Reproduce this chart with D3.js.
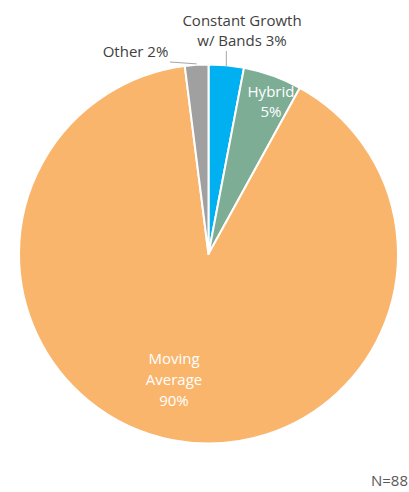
<!DOCTYPE html>
<html>
<head>
<meta charset="utf-8">
<script src="https://cdn.jsdelivr.net/npm/d3@7/dist/d3.min.js"></script>
<style>
  html, body { margin: 0; padding: 0; background: #fff; overflow: hidden; }
  svg { display: block; }
  text { font-family: "Open Sans", "Noto Sans", sans-serif; }
</style>
</head>
<body>
<svg id="chart" width="409" height="492"></svg>
<script>
// Forecast method shares (percent), clockwise from 12 o'clock
const categories = ["Constant Growth w/ Bands", "Hybrid", "Moving Average", "Other"];
const values = [3, 5, 90, 2];
const colors = ["#00B0F0", "#7EAD96", "#FAB56C", "#A0A0A0"];
const sampleNote = "N=88";

const svg = d3.select("#chart");
const cx = 208.5, cy = 254, radius = 189.5;

const pie = d3.pie().sort(null).value(d => d.value);
const arcs = pie(categories.map((c, i) => ({ name: c, value: values[i], color: colors[i] })));
const arc = d3.arc().innerRadius(0).outerRadius(radius);

const g = svg.append("g").attr("transform", `translate(${cx},${cy})`);

g.selectAll("path.slice")
  .data(arcs)
  .join("path")
  .attr("class", "slice")
  .attr("d", arc)
  .attr("fill", d => d.data.color)
  .attr("stroke", "#fff")
  .attr("stroke-width", 2)
  .attr("stroke-linejoin", "round");

// Point on the rim at the middle angle of a slice
function rimPoint(d, r) {
  const a = (d.startAngle + d.endAngle) / 2;
  return [cx + Math.sin(a) * r, cy - Math.cos(a) * r];
}

// Leader lines for the labels placed outside
const leader = svg.append("g").attr("stroke", "#A6A6A6").attr("stroke-width", 1).attr("fill", "none");
const cg = rimPoint(arcs[0], radius);
leader.append("line").attr("x1", cg[0]).attr("y1", 51).attr("x2", cg[0]).attr("y2", cg[1] + 1);
const ot = rimPoint(arcs[3], radius);
leader.append("polyline").attr("points", `170,62 ${ot[0]},${ot[1] - 1}`);

const fs = 15;

// Outside labels
const outside = svg.append("g").attr("fill", "#404040").attr("font-size", fs).attr("text-anchor", "middle");
outside.append("text").attr("x", 242).attr("y", 26).text("Constant Growth");
outside.append("text").attr("x", 242).attr("y", 46).text(`w/ Bands ${values[0]}%`);
outside.append("text").attr("x", 135.5).attr("y", 57).text(`Other ${values[3]}%`);

// Inside labels
const inside = svg.append("g").attr("fill", "#fff").attr("font-size", fs).attr("text-anchor", "middle");
inside.append("text").attr("x", 271).attr("y", 97).text("Hybrid");
inside.append("text").attr("x", 271).attr("y", 117).text(`${values[1]}%`);
inside.append("text").attr("x", 174).attr("y", 364).text("Moving");
inside.append("text").attr("x", 174).attr("y", 385).text("Average");
inside.append("text").attr("x", 174).attr("y", 406).text(`${values[2]}%`);

// Sample size note in the bottom-right corner
svg.append("text")
  .attr("x", 371).attr("y", 486)
  .attr("fill", "#595959").attr("font-size", fs)
  .text(sampleNote);
</script>
</body>
</html>
